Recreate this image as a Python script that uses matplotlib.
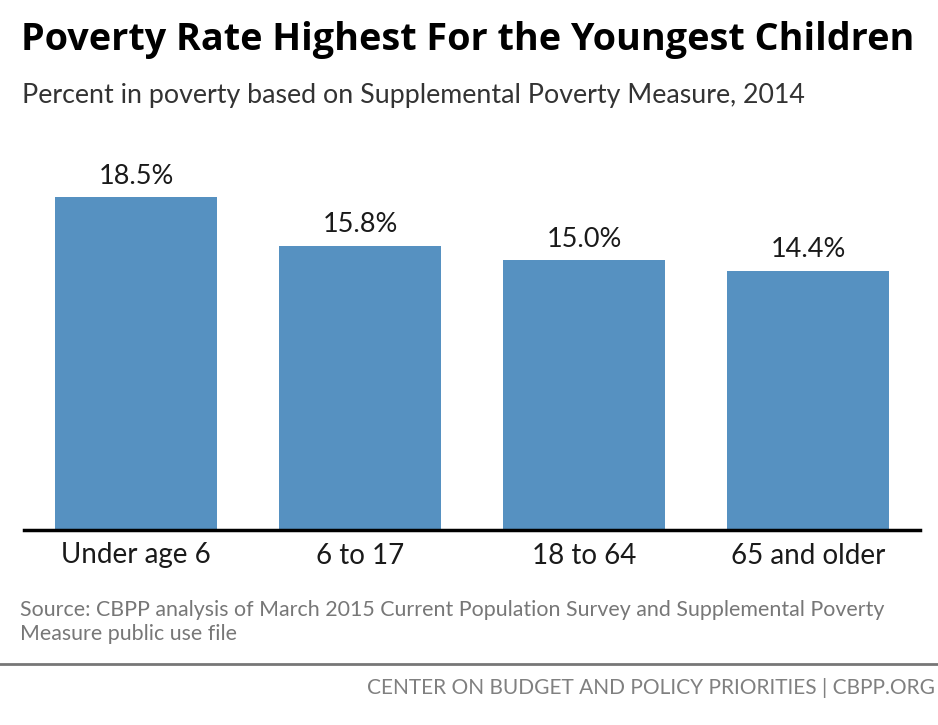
import matplotlib.pyplot as plt
from matplotlib.lines import Line2D

categories = ['Under age 6', '6 to 17', '18 to 64', '65 and older']
values = [18.5, 15.8, 15.0, 14.4]
value_labels = ['18.5%', '15.8%', '15.0%', '14.4%']

plt.rcParams['font.family'] = ['Lato', 'DejaVu Sans']

fig = plt.figure(figsize=(9.38, 7.25), dpi=100)
ax = fig.add_axes([24/938, (725-530)/725, 896/938, 360/725])

bars = ax.bar(range(len(categories)), values, width=0.723, color='#5691c1')
ax.set_xlim(-0.5, 3.5)
ax.set_ylim(0, 20)

for b, lab in zip(bars, value_labels):
    ax.annotate(lab, (b.get_x() + b.get_width()/2, b.get_height()),
                xytext=(0, 6), textcoords='offset points',
                ha='center', va='bottom', fontsize=19.5, color='#1a1a1a')

ax.set_xticks(range(len(categories)))
ax.set_xticklabels(categories, fontsize=20, color='#1a1a1a')
ax.tick_params(axis='x', length=0, pad=9)
ax.set_yticks([])
for s in ['top', 'right', 'left']:
    ax.spines[s].set_visible(False)
ax.spines['bottom'].set_linewidth(2.5)
ax.spines['bottom'].set_color('black')

fig.text(21/938, 1 - 40/725, 'Poverty Rate Highest For the Youngest Children',
         fontsize=27.2, fontweight='bold', color='black', va='center', ha='left',
         family=['Open Sans', 'DejaVu Sans'])
fig.text(22/938, 1 - 96/725, 'Percent in poverty based on Supplemental Poverty Measure, 2014',
         fontsize=19.3, color='#333333', va='center', ha='left')

fig.text(20/938, 1 - 622/725,
         'Source: CBPP analysis of March 2015 Current Population Survey and Supplemental Poverty\nMeasure public use file',
         fontsize=15.4, color='#777777', va='center', ha='left', linespacing=1.25)

fig.add_artist(Line2D([0, 1], [1 - 664/725, 1 - 664/725], color='#777777', lw=2,
                      transform=fig.transFigure))
fig.text(935/938, 1 - 688/725, 'CENTER ON BUDGET AND POLICY PRIORITIES | CBPP.ORG',
         fontsize=15, color='#808080', va='center', ha='right')

fig.savefig('out.png', dpi=100)
